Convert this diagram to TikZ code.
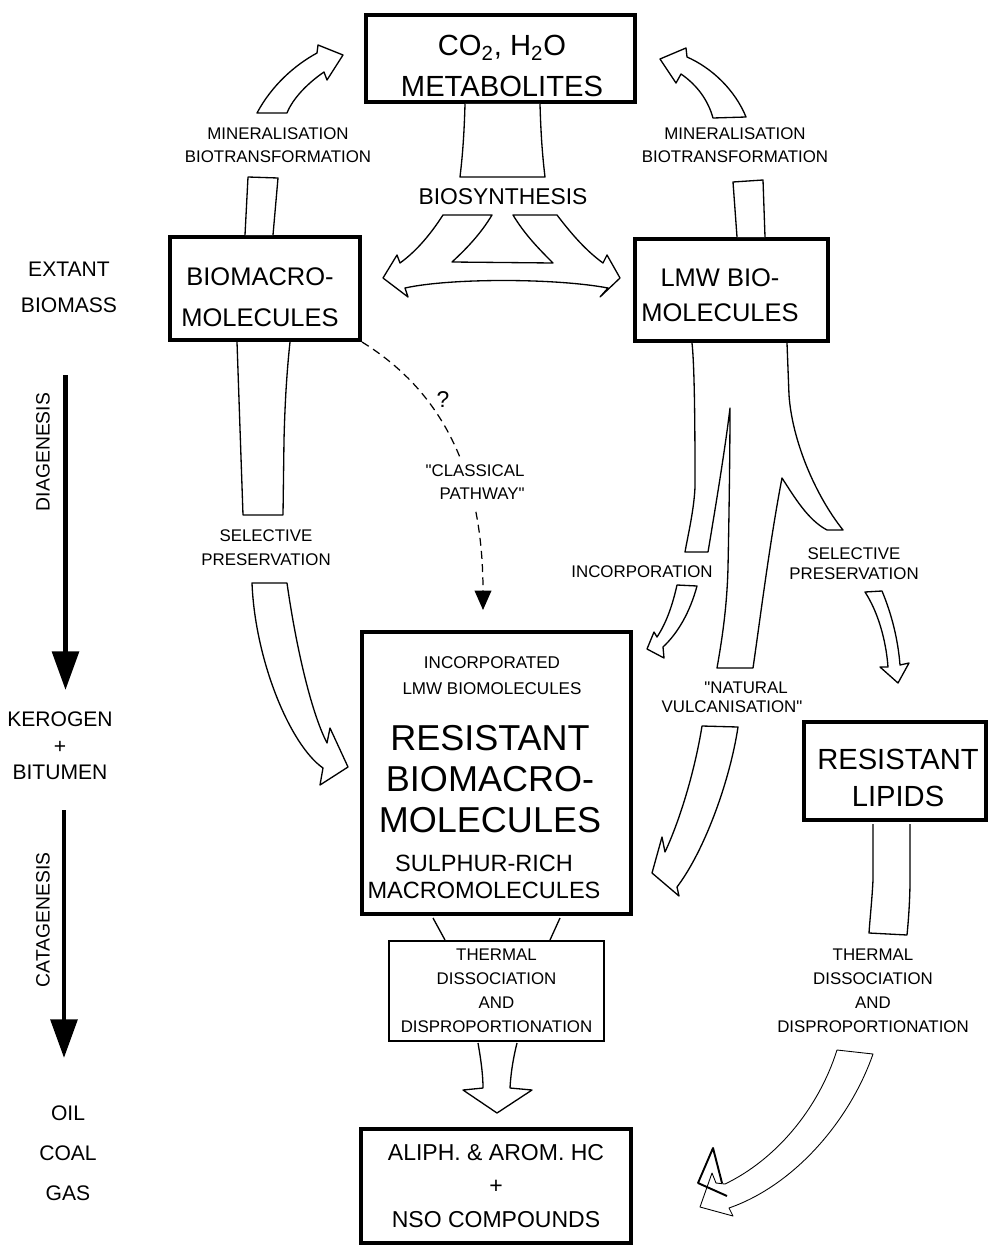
\documentclass[tikz,border=0pt]{standalone}
\usepackage{fontspec}
\setmainfont{Liberation Sans}[Ligatures=TeXOff]
\usetikzlibrary{arrows.meta}

\tikzset{
  box/.style={draw,line width=2.3pt,fill=white,inner sep=0pt},
  thinbox/.style={draw,line width=0.8pt,fill=white,inner sep=0pt},
  boxtxt/.style={align=center,inner sep=0pt},
  fatarrow/.style={draw,fill=white,line width=0.75pt,line join=round},
  lbl/.style={align=center,inner sep=0pt,font=\fontsize{9.6}{13.2}\selectfont},
  agelbl/.style={align=center,inner sep=0pt,font=\fontsize{12}{20.4}\selectfont},
  timeline/.style={line width=2.8pt,-{Triangle[length=22pt,width=15pt]}},
}

\begin{document}
\begin{tikzpicture}[x=0.02cm,y=-0.02cm]
\useasboundingbox (0,0) rectangle (992,1247);

% boxes
\node[box,minimum width=5.38cm,minimum height=1.74cm] (co2) at (500.5,58.5) {};
\node[box,minimum width=3.8cm,minimum height=2.06cm] (biomacro) at (265,288.5) {};
\node[box,minimum width=3.86cm,minimum height=2.04cm] (lmw) at (731.5,290) {};
\node[box,minimum width=5.38cm,minimum height=5.64cm] (resist) at (496.5,773) {};
\node[box,minimum width=3.64cm,minimum height=1.96cm] (lipids) at (895,771) {};
\node[thinbox,boxtxt,font=\fontsize{9.6}{13.6}\selectfont,minimum width=4.3cm,minimum height=2cm]
  (thermal) at (496.5,991) {THERMAL\\DISSOCIATION\\AND\\DISPROPORTIONATION};
\node[box,boxtxt,font=\fontsize{13.1}{19}\selectfont,minimum width=5.4cm,minimum height=2.28cm]
  (hc) at (496,1186) {ALIPH. \& AROM. HC\\+\\NSO COMPOUNDS};

% texts in the boxes
\node[boxtxt,font=\fontsize{16.6}{23.2}\selectfont] (co2txt) at (502,66)
  {CO\textsubscript{2}, H\textsubscript{2}O\\METABOLITES};
\node[boxtxt,font=\fontsize{14.5}{23.5}\selectfont] (biomacrotxt) at (260,297)
  {BIOMACRO-\\MOLECULES};
\node[boxtxt,font=\fontsize{14.5}{20.2}\selectfont] (lmwtxt) at (720,295)
  {LMW BIO-\\MOLECULES};
\node[boxtxt,font=\fontsize{9.7}{14.7}\selectfont] (incorptxt) at (492,676)
  {INCORPORATED\\LMW BIOMOLECULES};
\node[boxtxt,font=\fontsize{20.5}{23.5}\selectfont] (resisttxt) at (490,779)
  {RESISTANT\\BIOMACRO-\\MOLECULES};
\node[boxtxt,font=\fontsize{13.4}{15.3}\selectfont] (sulphtxt) at (484,877)
  {SULPHUR-RICH\\MACROMOLECULES};
\node[boxtxt,font=\fontsize{16.6}{21.5}\selectfont] (lipidstxt) at (898,778)
  {RESISTANT\\LIPIDS};

% time scale on the left
\node[agelbl] (extant) at (69,287) {EXTANT\\BIOMASS};
\node[agelbl,font=\fontsize{12}{15}\selectfont] (kerogen) at (60,746) {KEROGEN\\+\\BITUMEN};
\node[agelbl,font=\fontsize{12}{22.7}\selectfont] (oil) at (68,1153) {OIL\\COAL\\GAS};
\coordinate (dia0) at (65.5,375);
\coordinate (dia1) at (65.5,690);
\coordinate (cat0) at (64,810);
\coordinate (cat1) at (64,1058);
\draw[timeline] (dia0) -- (dia1);
\draw[timeline] (cat0) -- (cat1);
\node[agelbl,font=\fontsize{11}{13}\selectfont,rotate=90] (diag) at (43,452) {DIAGENESIS};
\node[agelbl,font=\fontsize{11}{13}\selectfont,rotate=90] (catag) at (43,920) {CATAGENESIS};

% mineralisation
\draw[fatarrow] (245,235) -- (248,177) -- (278,178) -- (273,235);
\draw[fatarrow] (257,113) .. controls (272,85) and (295,65) .. (317,53) -- (318,45) -- (343,55)
  -- (327,80) -- (324,72) .. controls (308,83) and (293,98) .. (287,113) -- cycle;
\draw[fatarrow] (737,237) -- (733,182) -- (763,180) -- (765,237);
\draw[fatarrow] (746,117) .. controls (735,90) and (712,68) .. (687,57) -- (686,48) -- (660,59)
  -- (676,83) -- (681,74) .. controls (697,85) and (708,100) .. (713,118) -- cycle;

% biosynthesis
\draw[fatarrow] (465,104) .. controls (464,140) and (462,160) .. (460,177) -- (545,177)
  .. controls (543,160) and (541,140) .. (540,104);
\draw[fatarrow] (443,215) .. controls (432,232) and (418,250) .. (400,263) -- (397,255) -- (383,278)
  -- (408,297) -- (405,288) .. controls (450,278) and (555,278) .. (608,288) -- (600,297)
  -- (620,278) -- (607,255) -- (603,263) .. controls (585,250) and (570,232) .. (557,215)
  -- (513,215) .. controls (525,235) and (540,250) .. (553,263) -- (452,262)
  .. controls (465,250) and (480,235) .. (492,215) -- cycle;

% selective preservation of biomacromolecules
\draw[fatarrow] (237,342) -- (243,515) -- (283,515) -- (284,440)
  .. controls (285,400) and (287,370) .. (290,342);
\draw[fatarrow] (252,583) -- (287,583) .. controls (295,640) and (310,710) .. (327,743)
  -- (330,728) -- (348,767) -- (320,785) -- (323,768)
  .. controls (290,745) and (255,660) .. (252,583) -- cycle;

% classical pathway
\coordinate (classicend) at (483,610);
\draw[dash pattern=on 4.5pt off 3pt,line width=0.7pt,-{Triangle[length=11pt,width=9.5pt]}]
  (biomacro.south east) .. controls (440,390) and (483,470) .. (classicend);
\node[lbl,fill=white,inner sep=4pt] (classic) at (475,482) {"CLASSICAL\\\hspace*{8pt}PATHWAY"};
\node[font=\fontsize{13}{15}\selectfont,inner sep=0pt] (qmark) at (443,400) {?};

% LMW biomolecules
\draw[fatarrow] (692,343) .. controls (695,370) and (695,450) .. (695,487)
  .. controls (694,510) and (688,535) .. (685,552) -- (708,552)
  .. controls (715,510) and (725,450) .. (730,408)
  .. controls (730,450) and (729,520) .. (728,567)
  .. controls (727,610) and (721,645) .. (717,668) -- (753,668)
  .. controls (760,620) and (770,540) .. (782,478)
  .. controls (795,498) and (808,520) .. (827,530) -- (843,530)
  .. controls (815,495) and (792,440) .. (789,395) -- (787,343);
\draw[fatarrow] (677,585) -- (697,586) .. controls (690,612) and (678,633) .. (663,647)
  -- (664,658) -- (647,649) -- (654,632) -- (657,637)
  .. controls (667,622) and (673,603) .. (677,585) -- cycle;
\draw[fatarrow] (865,592) -- (882,591) .. controls (892,615) and (898,640) .. (900,665)
  -- (909,663) -- (898,683) -- (880,667) -- (888,667)
  .. controls (886,640) and (878,612) .. (865,592) -- cycle;
\draw[fatarrow] (702,726) -- (738,727) .. controls (730,780) and (705,850) .. (677,887)
  -- (679,896) -- (652,873) -- (662,837) -- (665,852)
  .. controls (680,820) and (695,770) .. (702,726) -- cycle;

% thermal stage
\draw[line width=0.75pt] (433,918) -- (445,940);
\draw[line width=0.75pt] (560,918) -- (550,940);
\draw[fatarrow] (478,1043) .. controls (481,1060) and (483,1075) .. (483,1088) -- (463,1090)
  -- (497,1113) -- (532,1090) -- (510,1088) .. controls (511,1070) and (514,1055) .. (517,1043);
\draw[fatarrow] (873,824) -- (873,880) .. controls (872,900) and (870,918) .. (869,933)
  -- (907,935) .. controls (909,915) and (910,895) .. (910,880) -- (910,824);
\draw[fatarrow,line width=0.5pt] (837,1050) -- (873,1054) .. controls (850,1120) and (795,1185) .. (729,1208)
  -- (733,1216) -- (700,1207) -- (712,1173) -- (716,1183) -- (725,1184)
  .. controls (775,1160) and (818,1110) .. (837,1050) -- cycle;
\draw[line width=1.1pt,line join=round] (722,1183) -- (713,1148) -- (698,1183) -- (727,1196);

% process labels
\node[lbl,font=\fontsize{9.6}{12.8}\selectfont] (minLtxt) at (278,145) {MINERALISATION\\BIOTRANSFORMATION};
\node[lbl,font=\fontsize{9.6}{12.8}\selectfont] (minRtxt) at (735,145) {MINERALISATION\\BIOTRANSFORMATION};
\node[lbl,font=\fontsize{13}{15}\selectfont] (biosynth) at (503,197) {BIOSYNTHESIS};
\node[lbl,font=\fontsize{9.6}{13.6}\selectfont] (selLtxt) at (266,548) {SELECTIVE\\PRESERVATION};
\node[lbl] (incorpLbl) at (642,572) {INCORPORATION};
\node[lbl,font=\fontsize{9.6}{11.3}\selectfont] (selRtxt) at (854,564) {SELECTIVE\\PRESERVATION};
\node[lbl,font=\fontsize{9.6}{10.8}\selectfont] (natvul) at (732,697)
  {\hspace*{16pt}"NATURAL\\VULCANISATION"};
\node[lbl,font=\fontsize{9.6}{13.6}\selectfont] (thermRtxt) at (873,991)
  {THERMAL\\DISSOCIATION\\AND\\DISPROPORTIONATION};
\end{tikzpicture}
\end{document}
